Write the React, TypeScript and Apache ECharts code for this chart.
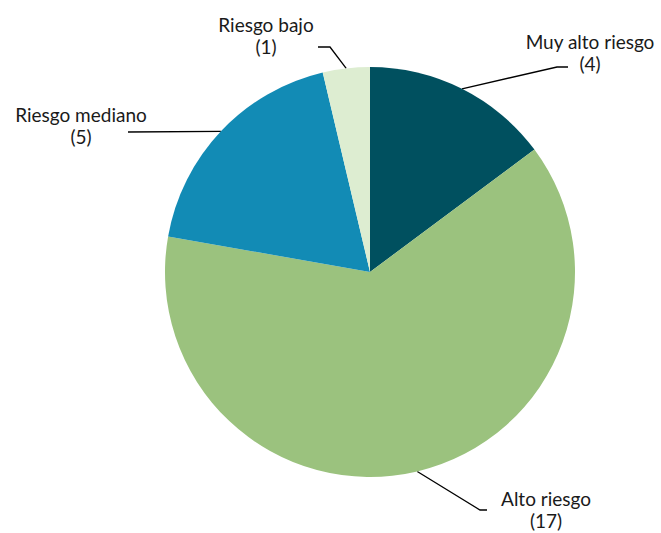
import React, { useEffect, useRef } from "react";
import * as echarts from "echarts";

const categories = ["Muy alto riesgo", "Alto riesgo", "Riesgo mediano", "Riesgo bajo"];
const values = [4, 17, 5, 1];
const colors = ["#00505f", "#9bc27e", "#128bb5", "#ddedd1"];
// label centre positions and label-line bend points (layout only)
const labelPos = [
  [590, 52],
  [546, 509],
  [81, 125],
  [266, 35],
];
const bendPts = [
  [[557, 67], [568, 67]],
  [[480, 510], [487, 510]],
  [[128, 132], [128, 132]],
  [[330, 47], [318, 47]],
];

export default function App() {
  const ref = useRef<HTMLDivElement>(null);
  useEffect(() => {
    const chart = echarts.init(ref.current!, null, { renderer: "svg" });
    chart.setOption({
      animation: false,
      backgroundColor: "#ffffff",
      series: [
        {
          type: "pie",
          center: [370, 272],
          radius: 205,
          startAngle: 90,
          clockwise: true,
          data: categories.map((c, i) => ({
            name: c,
            value: values[i],
            itemStyle: { color: colors[i] },
          })),
          itemStyle: { borderWidth: 0 },
          label: {
            show: true,
            position: "outside",
            formatter: (p: any) => `${p.name}\n(${p.value})`,
            fontFamily: "Lato",
            fontSize: 19,
            lineHeight: 22,
            color: "#1a1a1a",
            align: "center",
          },
          labelLine: {
            show: true,
            lineStyle: { color: "#000000", width: 1.3 },
          },
          labelLayout: (p: any) => {
            const i = p.dataIndex;
            const start = p.labelLinePoints ? p.labelLinePoints[0] : bendPts[i][0];
            return {
              x: labelPos[i][0],
              y: labelPos[i][1],
              align: "center",
              verticalAlign: "middle",
              labelLinePoints: [start, bendPts[i][0], bendPts[i][1]],
            };
          },
          emphasis: { disabled: true },
        },
      ],
    });
    return () => chart.dispose();
  }, []);
  return (
    <div
      ref={ref}
      style={{ position: "fixed", left: 0, top: 0, width: 661, height: 533 }}
    />
  );
}
